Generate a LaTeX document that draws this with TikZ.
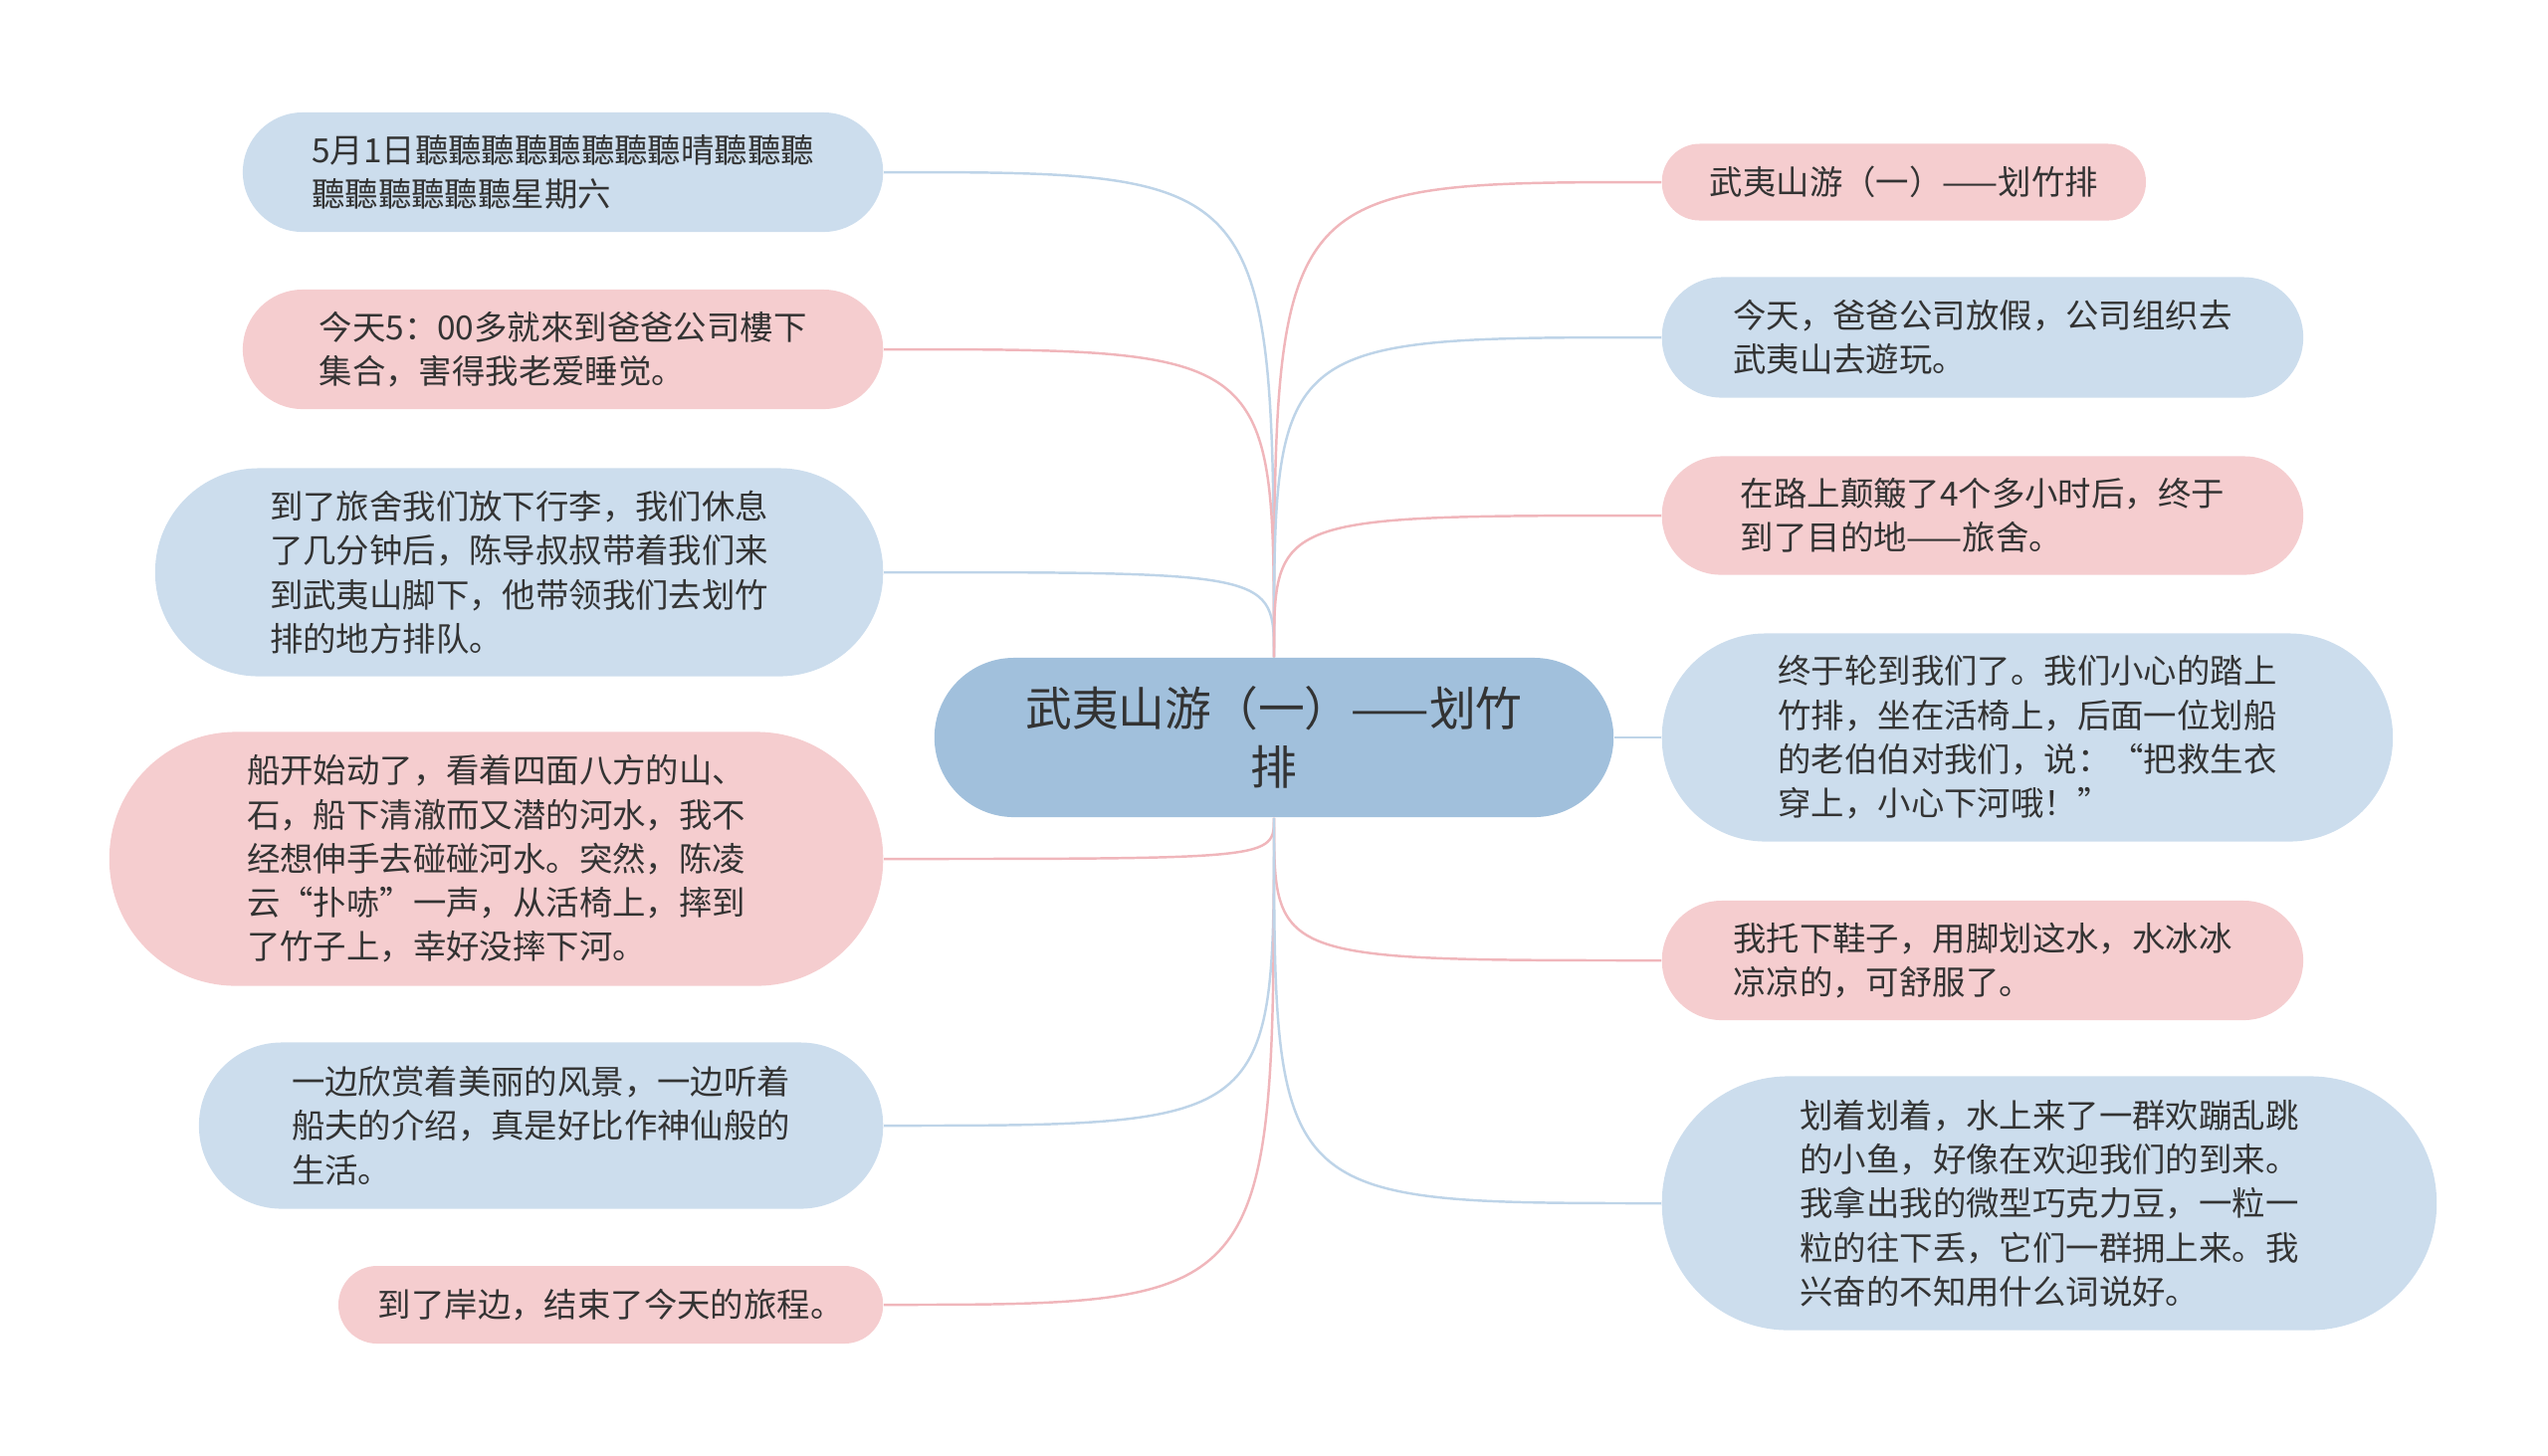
\documentclass[tikz,border=0pt]{standalone}
\usepackage{fontspec}
\setmainfont{Noto Sans CJK SC}
\usepackage{tikz}
\usetikzlibrary{positioning,calc}
\usepackage{xcolor}
\definecolor{boxblue}{RGB}{204,221,237}
\definecolor{boxpink}{RGB}{245,205,207}
\definecolor{rootblue}{RGB}{161,192,220}
\definecolor{lineblue}{RGB}{190,212,232}
\definecolor{linepink}{RGB}{240,182,187}
\definecolor{textgray}{RGB}{51,51,51}
\tikzset{
  topic/.style={text=textgray, inner sep=0pt, align=left,
    font=\fontsize{9.5pt}{12.6pt}\selectfont},
  bluebox/.style={topic, fill=boxblue},
  pinkbox/.style={topic, fill=boxpink},
  blueline/.style={draw=lineblue, line width=0.7pt},
  pinkline/.style={draw=linepink, line width=0.7pt},
}

\begin{document}
\begin{tikzpicture}[x=0.01cm, y=-0.01cm]
\useasboundingbox (0,0) rectangle (2560,1462);

\node[fill=rootblue, text=textgray, align=center, inner sep=0pt,
  minimum width=6.82cm, minimum height=1.6cm, rounded corners=0.8cm,
  font=\fontsize{13.3pt}{16.8pt}\selectfont] (root) at (1280,741)
  {武夷山游（一）——划竹\\排};

% left side
\node[bluebox, anchor=east, minimum width=6.43cm, minimum height=1.2cm, rounded corners=0.6cm]
  (l1) at (888,173) {5月1日聽聽聽聽聽聽聽聽晴聽聽聽\\聽聽聽聽聽聽星期六};
\node[pinkbox, anchor=east, minimum width=6.43cm, minimum height=1.2cm, rounded corners=0.6cm]
  (l2) at (888,351) {今天5：00多就來到爸爸公司樓下\\集合，害得我老爱睡觉。};
\node[bluebox, anchor=east, minimum width=7.31cm, minimum height=2.09cm, rounded corners=1.04cm]
  (l3) at (888,575) {到了旅舍我们放下行李，我们休息\\了几分钟后，陈导叔叔带着我们来\\到武夷山脚下，他带领我们去划竹\\排的地方排队。};
\node[pinkbox, anchor=east, minimum width=7.77cm, minimum height=2.55cm, rounded corners=1.27cm]
  (l4) at (888,863) {船开始动了，看着四面八方的山、\\石，船下清澈而又潜的河水，我不\\经想伸手去碰碰河水。突然，陈凌\\云“扑哧”一声，从活椅上，摔到\\了竹子上，幸好没摔下河。};
\node[bluebox, anchor=east, minimum width=6.87cm, minimum height=1.67cm, rounded corners=0.83cm]
  (l5) at (888,1131) {一边欣赏着美丽的风景，一边听着\\船夫的介绍，真是好比作神仙般的\\生活。};
\node[pinkbox, anchor=east, minimum width=5.47cm, minimum height=0.78cm, rounded corners=0.39cm]
  (l6) at (888,1311) {到了岸边，结束了今天的旅程。};

% right side
\node[pinkbox, anchor=west, minimum width=4.86cm, minimum height=0.77cm, rounded corners=0.38cm]
  (r1) at (1669,183) {武夷山游（一）——划竹排};
\node[bluebox, anchor=west, minimum width=6.44cm, minimum height=1.21cm, rounded corners=0.6cm]
  (r2) at (1669,339) {今天，爸爸公司放假，公司组织去\\武夷山去遊玩。};
\node[pinkbox, anchor=west, minimum width=6.44cm, minimum height=1.19cm, rounded corners=0.59cm]
  (r3) at (1669,518) {在路上颠簸了4个多小时后，终于\\到了目的地——旅舍。};
\node[bluebox, anchor=west, minimum width=7.34cm, minimum height=2.09cm, rounded corners=1.04cm]
  (r4) at (1669,741) {终于轮到我们了。我们小心的踏上\\竹排，坐在活椅上，后面一位划船\\的老伯伯对我们，说：“把救生衣\\穿上，小心下河哦！”};
\node[pinkbox, anchor=west, minimum width=6.44cm, minimum height=1.2cm, rounded corners=0.6cm]
  (r5) at (1669,965) {我托下鞋子，用脚划这水，水冰冰\\凉凉的，可舒服了。};
\node[bluebox, anchor=west, minimum width=7.78cm, minimum height=2.55cm, rounded corners=1.27cm]
  (r6) at (1669,1209) {划着划着，水上来了一群欢蹦乱跳\\的小鱼，好像在欢迎我们的到来。\\我拿出我的微型巧克力豆，一粒一\\粒的往下丢，它们一群拥上来。我\\兴奋的不知用什么词说好。};

% connectors
\draw[blueline] (root.north) .. controls (root.north |- l1.east) .. (l1.east);
\draw[pinkline] (root.north) .. controls (root.north |- l2.east) .. (l2.east);
\draw[blueline] (root.north) .. controls (root.north |- l3.east) .. (l3.east);
\draw[pinkline] (root.south) .. controls (root.south |- l4.east) .. (l4.east);
\draw[blueline] (root.south) .. controls (root.south |- l5.east) .. (l5.east);
\draw[pinkline] (root.south) .. controls (root.south |- l6.east) .. (l6.east);
\draw[pinkline] (root.north) .. controls (root.north |- r1.west) .. (r1.west);
\draw[blueline] (root.north) .. controls (root.north |- r2.west) .. (r2.west);
\draw[pinkline] (root.north) .. controls (root.north |- r3.west) .. (r3.west);
\draw[blueline] (root.east) -- (r4.west);
\draw[pinkline] (root.south) .. controls (root.south |- r5.west) .. (r5.west);
\draw[blueline] (root.south) .. controls (root.south |- r6.west) .. (r6.west);

\end{tikzpicture}
\end{document}
